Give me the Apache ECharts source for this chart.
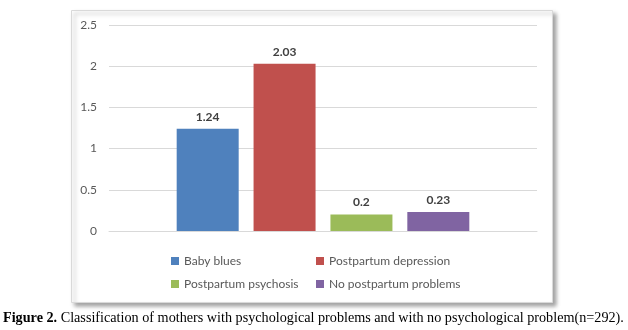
<!DOCTYPE html>
<html><head><meta charset="utf-8">
<script src="https://cdn.jsdelivr.net/npm/echarts@6/dist/echarts.min.js"></script>
<style>html,body{margin:0;padding:0;background:#fff}#c{width:628px;height:330px}</style>
</head><body><div id="c"></div>
<script>
const categories = [''];
const seriesNames = ['Baby blues', 'Postpartum depression', 'Postpartum psychosis', 'No postpartum problems'];
const seriesValues = [[1.24], [2.03], [0.2], [0.23]];
const colors = ['#4f81bd', '#c0504d', '#9bbb59', '#8064a2'];
const yTicks = [0, 0.5, 1, 1.5, 2, 2.5];
const caption = 'Classification of mothers with psychological problems and with no psychological problem(n=292).';

const chart = echarts.init(document.getElementById('c'), null, {renderer: 'canvas'});
const font = 'Lato, "Open Sans", sans-serif';
chart.setOption({
  animation: false,
  backgroundColor: '#fff',
  graphic: [
    {type: 'rect', shape: {x: 71.5, y: 10.5, width: 481, height: 292}, z: -10,
     style: {fill: '#fff', stroke: '#d9d9d9', lineWidth: 1, shadowBlur: 4, shadowOffsetX: 3, shadowOffsetY: 3, shadowColor: 'rgba(0,0,0,0.35)'}},
    {type: 'text', left: 3, top: 311, style: {
      text: '{b|Figure 2.} ' + caption,
      rich: {b: {fontWeight: 'bold', fontFamily: '"Liberation Serif", serif', fontSize: 14.2, fill: '#000'}},
      fontFamily: '"Liberation Serif", serif', fontSize: 14.2, fill: '#000'}}
  ],
  grid: {left: 109, right: 91, top: 25, bottom: 99},
  xAxis: {type: 'category', data: categories, axisLine: {show: true, lineStyle: {color: '#d9d9d9'}}, axisTick: {show: false}, axisLabel: {show: false}},
  yAxis: {type: 'value', min: yTicks[0], max: yTicks[yTicks.length - 1], interval: 0.5,
    axisLine: {show: false}, axisTick: {show: false},
    splitLine: {lineStyle: {color: '#d9d9d9', width: 1}},
    axisLabel: {color: '#595959', fontSize: 12, fontFamily: font, margin: 12}},
  legend: [
    {data: [seriesNames[0], seriesNames[2]], orient: 'vertical', left: 166, top: 250, itemWidth: 8, itemHeight: 8, itemGap: 11,
     icon: 'rect', textStyle: {color: '#595959', fontSize: 12, fontFamily: font}, itemStyle: {borderWidth: 0}},
    {data: [seriesNames[1], seriesNames[3]], orient: 'vertical', left: 311, top: 250, itemWidth: 8, itemHeight: 8, itemGap: 11,
     icon: 'rect', textStyle: {color: '#595959', fontSize: 12, fontFamily: font}, itemStyle: {borderWidth: 0}}
  ],
  series: seriesNames.map((n, i) => ({
    name: n, type: 'bar', data: seriesValues[i], barWidth: 62, barGap: '24%',
    itemStyle: {color: colors[i]},
    label: {show: true, position: 'top', distance: 6, color: '#404040', fontSize: 12, fontWeight: 'bold', fontFamily: font}
  }))
});
</script></body></html>
